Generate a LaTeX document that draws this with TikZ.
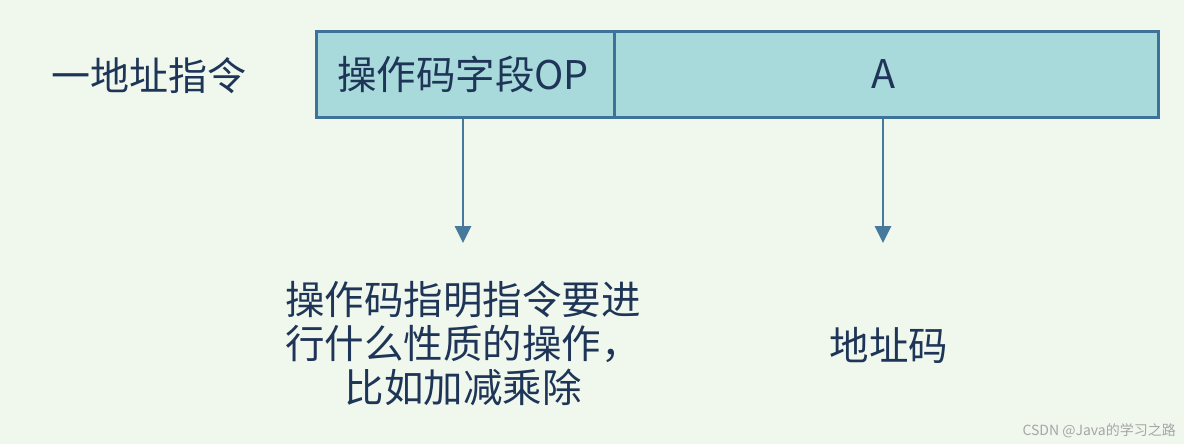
\documentclass[tikz,border=0pt]{standalone}
\usepackage{fontspec}
\newfontfamily\cjk{Noto Sans CJK SC}
\usetikzlibrary{arrows.meta}
\definecolor{bgc}{HTML}{F0F8EE}
\definecolor{boxfill}{HTML}{A8D9DB}
\definecolor{boxline}{HTML}{3E7399}
\definecolor{arr}{HTML}{47799D}
\definecolor{txt}{HTML}{1E3557}
\tikzset{
  field/.style={draw=boxline, line width=2.6pt, fill=boxfill, minimum height=86pt, inner sep=0pt, anchor=north west},
  lbl/.style={text=txt, font=\cjk\fontsize{39.5}{44}\selectfont, inner sep=0pt},
  conn/.style={draw=arr, line width=2.8pt, -{Triangle[width=16pt,length=17pt]}},
}
\begin{document}
\begin{tikzpicture}[x=1pt,y=-1pt]
\fill[bgc] (0,0) rectangle (1184,444);
\useasboundingbox (0,0) rectangle (1184,444);
\node[field, minimum width=298pt] (op) at (315,30) {};
\node[field, minimum width=544pt] (a) at (613,30) {};
\node[lbl, font=\cjk\fontsize{39.5}{44}\selectfont] (opt) at (463,74) {操作码字段OP};
\node[lbl, font=\cjk\fontsize{39.5}{44}\selectfont] (at) at (883,74) {A};
\node[lbl, font=\cjk\fontsize{39}{44}\selectfont] (title) at (149,76) {一地址指令};
\coordinate (e1) at (463,243);
\coordinate (e2) at (883,243);
\draw[conn] (op.south -| e1) -- (e1);
\draw[conn] (a.south -| e2) -- (e2);
\node[lbl, align=center] (desc) at (463,343) {操作码指明指令要进\\行什么性质的操作，\\比如加减乘除};
\node[lbl] (addr) at (889,345) {地址码};
\node[text=gray!70, font=\cjk\fontsize{14}{16}\selectfont, anchor=east, inner sep=0pt] (wm) at (1176,431) {CSDN @Java的学习之路};
\end{tikzpicture}
\end{document}
